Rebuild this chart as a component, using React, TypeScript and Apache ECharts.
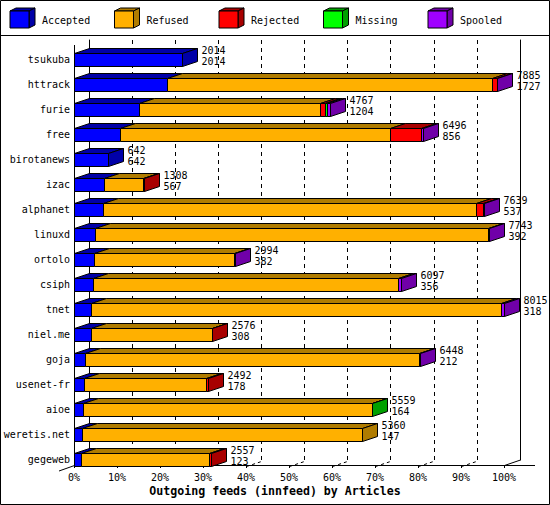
import React, { useEffect, useRef } from "react";
import * as echarts from "echarts";

const categories = ["tsukuba", "httrack", "furie", "free", "birotanews", "izac", "alphanet", "linuxd", "ortolo", "csiph", "tnet", "niel.me", "goja", "usenet-fr", "aioe", "weretis.net", "gegeweb"];
const totals = [2014, 7885, 4767, 6496, 642, 1308, 7639, 7743, 2994, 6097, 8015, 2576, 6448, 2492, 5559, 5360, 2557];
const accepted = [2014, 1727, 1204, 856, 642, 567, 537, 392, 382, 356, 318, 308, 212, 178, 164, 147, 123];
const refused = [0, 6060, 3387, 5040, 0, 728, 6962, 7331, 2606, 5677, 7635, 2264, 6219, 2277, 5390, 5213, 2399];
const rejected = [0, 90, 95, 570, 0, 13, 124, 0, 0, 0, 0, 4, 0, 37, 0, 0, 35];
const missing = [0, 0, 25, 0, 0, 0, 0, 0, 0, 0, 0, 0, 0, 0, 5, 0, 0];
const spooled = [0, 8, 56, 30, 0, 0, 16, 20, 6, 64, 62, 0, 17, 0, 0, 0, 0];
const seriesNames = ["Accepted", "Refused", "Rejected", "Missing", "Spooled"];
const frontColors = ["#0000ff", "#ffb000", "#ff0000", "#00ff00", "#a000ff"];
const darkColors = ["#0000a8", "#b07c00", "#a80000", "#00a000", "#7000a8"];
const floorTicks = [10, 20, 30, 40, 50, 60, 70, 80, 90];
const axisTitle = "Outgoing feeds (innfeed) by Articles";

const MONO = '"DejaVu Sans Mono", "Liberation Mono", monospace';
const DX = 15;
const DY = -5;
const H = 13;

export default function App() {
  const ref = useRef<HTMLDivElement>(null);
  useEffect(() => {
    if (!ref.current) return;
    const chart = echarts.init(ref.current, null, { renderer: "svg" });
    const segs = [accepted, refused, rejected, missing, spooled];
    const maxTotal = Math.max(...totals);
    const data: any[] = [];
    categories.forEach((c, i) => {
      let lastIdx = -1;
      segs.forEach((arr, s) => {
        if (arr[i] > 0) lastIdx = s;
      });
      let cum = 0;
      segs.forEach((arr, s) => {
        const v = arr[i];
        if (v <= 0) return;
        const a = (cum / maxTotal) * 100;
        cum += v;
        const b = (cum / maxTotal) * 100;
        data.push({ value: [a, i, b, s, s === lastIdx ? 1 : 0, totals[i], accepted[i]] });
      });
    });

    const legendGraphics: any[] = [];
    seriesNames.forEach((n, k) => {
      const x0 = 10 + k * 104.5;
      const y0 = 11;
      const w = 19;
      const h = 17;
      legendGraphics.push({
        type: "polygon",
        shape: { points: [[x0, y0], [x0 + w, y0], [x0 + w + 6, y0 - 3], [x0 + 6, y0 - 3]] },
        style: { fill: darkColors[k], stroke: "#000", lineWidth: 1 },
      });
      legendGraphics.push({
        type: "polygon",
        shape: { points: [[x0 + w, y0], [x0 + w + 6, y0 - 3], [x0 + w + 6, y0 + h - 3], [x0 + w, y0 + h]] },
        style: { fill: darkColors[k], stroke: "#000", lineWidth: 1 },
      });
      legendGraphics.push({
        type: "rect",
        shape: { x: x0, y: y0, width: w, height: h },
        style: { fill: frontColors[k], stroke: "#000", lineWidth: 1 },
      });
      legendGraphics.push({
        type: "text",
        x: x0 + 32,
        y: 20,
        style: { text: n, font: `10px ${MONO}`, fill: "#000", align: "left", verticalAlign: "middle" },
      });
    });

    const option: any = {
      animation: false,
      backgroundColor: "#fff",
      title: {
        text: axisTitle,
        left: "center",
        top: 485,
        padding: 0,
        textStyle: { fontFamily: MONO, fontWeight: "bold", fontSize: 11.6, color: "#000" },
      },
      grid: [
        { left: 74, width: 430, top: 47, height: 425 },
        { left: 89, width: 431, top: 40, height: 420 },
      ],
      xAxis: [
        {
          gridIndex: 0,
          type: "value",
          min: 0,
          max: 100,
          interval: 10,
          offset: -7,
          axisLine: { show: false },
          axisTick: { show: true, length: 3, lineStyle: { color: "#000" } },
          axisLabel: { margin: 7, formatter: "{value}%", fontFamily: MONO, fontSize: 10, color: "#000" },
          splitLine: { show: false },
        },
        {
          gridIndex: 1,
          type: "value",
          min: 0,
          max: 100,
          interval: 10,
          axisLine: { show: false },
          axisTick: { show: false },
          axisLabel: { show: false },
          splitLine: { show: true, showMinLine: false, showMaxLine: false, lineStyle: { color: "#000", type: [4, 4], width: 1 } },
        },
      ],
      yAxis: [
        {
          gridIndex: 0,
          type: "category",
          data: categories,
          inverse: true,
          axisLine: { show: false },
          axisTick: { show: false },
          axisLabel: { margin: 4, fontFamily: MONO, fontSize: 10, color: "#000" },
          splitLine: { show: false },
        },
        {
          gridIndex: 1,
          type: "value",
          position: "left",
          min: 0,
          max: 1,
          axisLine: { show: true, lineStyle: { color: "#000" } },
          axisTick: { show: false },
          axisLabel: { show: false },
          splitLine: { show: false },
        },
        {
          gridIndex: 1,
          type: "value",
          position: "right",
          min: 0,
          max: 1,
          axisLine: { show: true, lineStyle: { color: "#000" } },
          axisTick: { show: false },
          axisLabel: { show: false },
          splitLine: { show: false },
        },
      ],
      graphic: [
        { type: "rect", shape: { x: 0.5, y: 0.5, width: 549, height: 504 }, style: { fill: "none", stroke: "#000", lineWidth: 1 } },
        { type: "line", shape: { x1: 0, y1: 35.5, x2: 550, y2: 35.5 }, style: { stroke: "#000", lineWidth: 1 } },
        { type: "line", shape: { x1: 74.5, y1: 45, x2: 74.5, y2: 465.5 }, style: { stroke: "#000", lineWidth: 1 } },
        { type: "line", shape: { x1: 74.5, y1: 465.5, x2: 535, y2: 465.5 }, style: { stroke: "#000", lineWidth: 1 } },
        { type: "line", shape: { x1: 59, y1: 471, x2: 74.5, y2: 465.5 }, style: { stroke: "#000", lineWidth: 1 } },
        { type: "line", shape: { x1: 504.5, y1: 465.5, x2: 520.5, y2: 460 }, style: { stroke: "#000", lineWidth: 1 } },
        ...legendGraphics,
      ],
      series: [
        {
          type: "custom",
          name: "floor",
          xAxisIndex: 0,
          yAxisIndex: 0,
          silent: true,
          z: 1,
          data: floorTicks.map((v) => [v, categories.length - 1]),
          encode: { x: 0, y: 1 },
          renderItem: (params: any, api: any) => {
            const p = api.coord([api.value(0), api.value(1)]);
            const x = Math.round(p[0]) + 0.5;
            const y = Math.round(p[1] + 6) + 0.5;
            return {
              type: "line",
              shape: { x1: x, y1: y, x2: x + DX, y2: y + DY },
              style: { stroke: "#000", lineWidth: 1, lineDash: [3, 3] },
            };
          },
        },
        {
          type: "custom",
          name: "feeds",
          xAxisIndex: 0,
          yAxisIndex: 0,
          z: 3,
          data,
          encode: { x: [0, 2], y: 1 },
          renderItem: (params: any, api: any) => {
            const cat = api.value(1);
            const s = api.value(3);
            const last = api.value(4);
            const pa = api.coord([api.value(0), cat]);
            const pb = api.coord([api.value(2), cat]);
            const xa = Math.round(pa[0]) + 0.5;
            const xb = Math.round(pb[0]) + 0.5;
            const yt = Math.round(pa[1] - H / 2) + 0.5;
            const yb = yt + H;
            const children: any[] = [
              {
                type: "polygon",
                shape: { points: [[xa, yt], [xb, yt], [xb + DX, yt + DY], [xa + DX, yt + DY]] },
                style: { fill: darkColors[s], stroke: "#000", lineWidth: 1 },
              },
              {
                type: "rect",
                shape: { x: xa, y: yt, width: xb - xa, height: H },
                style: { fill: frontColors[s], stroke: "#000", lineWidth: 1 },
              },
            ];
            if (last) {
              children.push({
                type: "polygon",
                shape: { points: [[xb, yt], [xb + DX, yt + DY], [xb + DX, yb + DY], [xb, yb]] },
                style: { fill: darkColors[s], stroke: "#000", lineWidth: 1 },
              });
              children.push({
                type: "text",
                style: {
                  text: String(api.value(5)),
                  x: xb + DX + 4,
                  y: pa[1] - 9.5,
                  font: `10px ${MONO}`,
                  fill: "#000",
                  align: "left",
                  verticalAlign: "middle",
                },
              });
              children.push({
                type: "text",
                style: {
                  text: String(api.value(6)),
                  x: xb + DX + 4,
                  y: pa[1] + 2,
                  font: `10px ${MONO}`,
                  fill: "#000",
                  align: "left",
                  verticalAlign: "middle",
                },
              });
            }
            return { type: "group", children };
          },
        },
      ],
    };
    chart.setOption(option);
    return () => chart.dispose();
  }, []);
  return <div ref={ref} style={{ position: "absolute", left: 0, top: 0, width: 550, height: 505 }} />;
}
